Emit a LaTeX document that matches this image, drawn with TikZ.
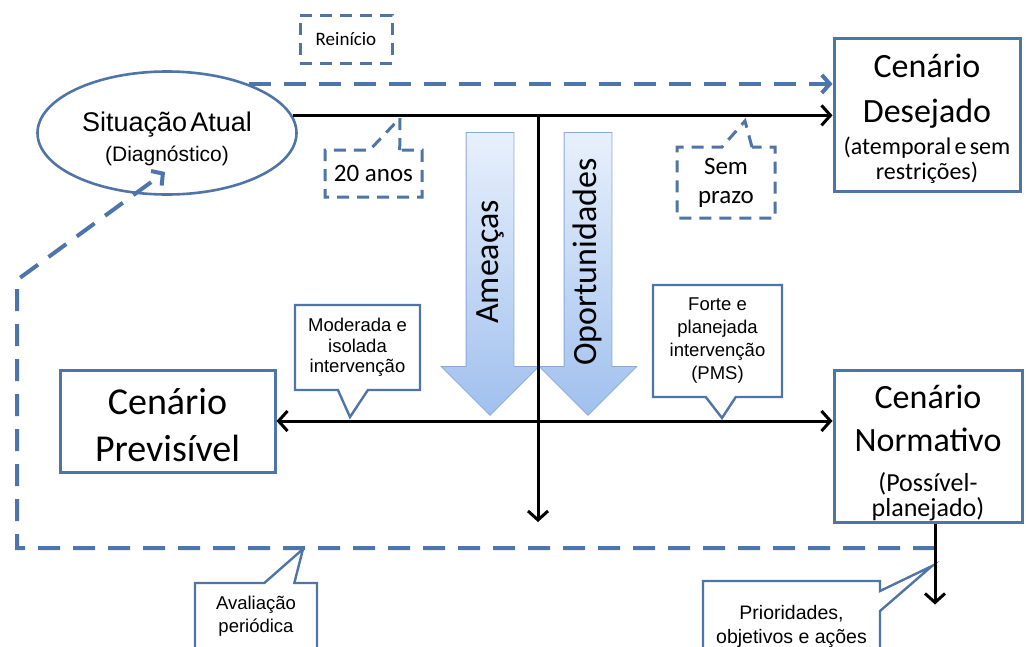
\documentclass[tikz,border=0pt]{standalone}
\usepackage{fontspec}
\setmainfont{Carlito}
\newfontfamily\arialfont{Liberation Sans}
\usetikzlibrary{shapes.geometric,shapes.arrows,shapes.callouts,arrows.meta}
\definecolor{contorno}{RGB}{79,117,168}
\definecolor{tracejado}{RGB}{78,116,172}
\definecolor{setaclara}{RGB}{232,240,252}
\definecolor{setaescura}{RGB}{160,192,238}
\definecolor{setaborda}{RGB}{138,169,214}
\newcommand{\fs}[2]{\fontsize{#1}{#2}\selectfont}

\begin{document}
\begin{tikzpicture}[x=1pt,y=-1pt,
  estado/.style={ellipse,draw=contorno,line width=2.6pt,minimum width=259pt,minimum height=123pt,inner sep=0pt,text width=180pt,align=center,font=\arialfont},
  caixa/.style={rectangle,draw=contorno,line width=3pt,fill=white,inner sep=0pt,align=center},
  balao/.style={rectangle callout,draw=contorno,line width=2.4pt,fill=white,inner sep=0pt,align=center,font=\arialfont\fs{18.5}{20.5},callout pointer width=30pt},
  balaotrac/.style={balao,dash pattern=on 12pt off 8pt,line width=3pt,font=\fs{25}{29}},
  seta/.style={single arrow,draw=setaborda,line width=0.8pt,top color=setaclara,bottom color=setaescura,rotate=90,shape border rotate=180,minimum height=283pt,single arrow head extend=25pt,text height=24pt,text depth=8pt,inner ysep=7.5pt,inner xsep=0pt,font=\fs{34}{40},anchor=tail},
  eixo/.style={line width=3pt,>={Straight Barb[length=9pt,width=20pt]}},
  retorno/.style={draw=tracejado,line width=4pt,dash pattern=on 22pt off 13pt,-{Straight Barb[length=8pt,width=18pt]}},
]
\useasboundingbox (0,0) rectangle (1026,646);
\clip (0,0) rectangle (1026,646);

\node (ameacas) [seta] at (490,132) {Ameaças};
\node (oportunidades) [seta] at (588,132) {Oportunidades};

\node (situacao) [estado,text height=32pt] at (167,133) {\fs{27}{30}Situação Atual\\\fs{21}{30}(Diagnóstico)\par};
\node (desejado) [caixa,minimum width=186pt,minimum height=153pt,text width=180pt,text height=33pt] at (927,114.5) {\fs{34}{45}Cenário\\Desejado\\\fs{24}{32}(atemporal e sem\\\fs{24}{25}restrições)\par};
\node (previsivel) [caixa,minimum width=215pt,minimum height=102pt,text width=200pt,text height=34pt] at (167.5,421) {\fs{38}{47}Cenário\\Previsível\par};
\node (normativo) [caixa,minimum width=188pt,minimum height=152pt,text width=180pt,text height=38pt] at (928,446) {\fs{34}{43}Cenário\\Normativo\\\fs{26}{40}(Possível-\\\fs{26}{25}planejado)\par};

\node (reinicio) [balaotrac,rectangle,minimum width=92pt,minimum height=48pt,font=\fs{19}{22}] at (346,39) {Reinício};
\node (vinte) [balaotrac,minimum width=97pt,minimum height=47pt,callout absolute pointer={(400,118)}] at (373.5,173.5) {20 anos};
\node (semprazo) [balaotrac,minimum width=98pt,minimum height=71pt,callout absolute pointer={(745,121)}] at (726,182.5) {Sem\\prazo};
\node (moderada) [balao,minimum width=125pt,minimum height=85pt,callout absolute pointer={(350,417)}] at (357.5,347.5) {Moderada e\\isolada\\intervenção};
\node (forte) [balao,minimum width=129pt,minimum height=112pt,font=\arialfont\fs{18.5}{23},callout absolute pointer={(722,418)}] at (717.5,341) {Forte e\\planejada\\intervenção\\(PMS)};
\node (avaliacao) [balao,minimum width=122pt,minimum height=67pt,font=\arialfont\fs{18.5}{23},callout absolute pointer={(303,549)}] at (256,616.5) {Avaliação\\periódica};
\node (prioridades) [balao,minimum width=177pt,minimum height=90pt,font=\arialfont\fs{19.5}{24},callout pointer width=20pt,callout absolute pointer={(932,566)}] at (791.5,626) {Prioridades,\\objetivos e ações};

\coordinate (baixo) at (538,522);
\coordinate (saida) at ([xshift=7pt]normativo.south);
\coordinate (canto) at (17,548);
\coordinate (dobra) at (17,280);
\coordinate (alvo) at (165,172);

\draw [retorno] (situacao.31) -- (situacao.31 -| desejado.west);
\draw [retorno] (saida |- canto) -- (canto) -- (dobra) -- (alvo);

\draw [eixo,->] (situacao.8) -- (situacao.8 -| desejado.west);
\draw [eixo,->] (situacao.8 -| baixo) -- (baixo);
\draw [eixo,<->] (previsivel.east) -- (previsivel.east -| normativo.west);
\draw [eixo,->] (saida) -- ++(0,81);
\end{tikzpicture}
\end{document}
